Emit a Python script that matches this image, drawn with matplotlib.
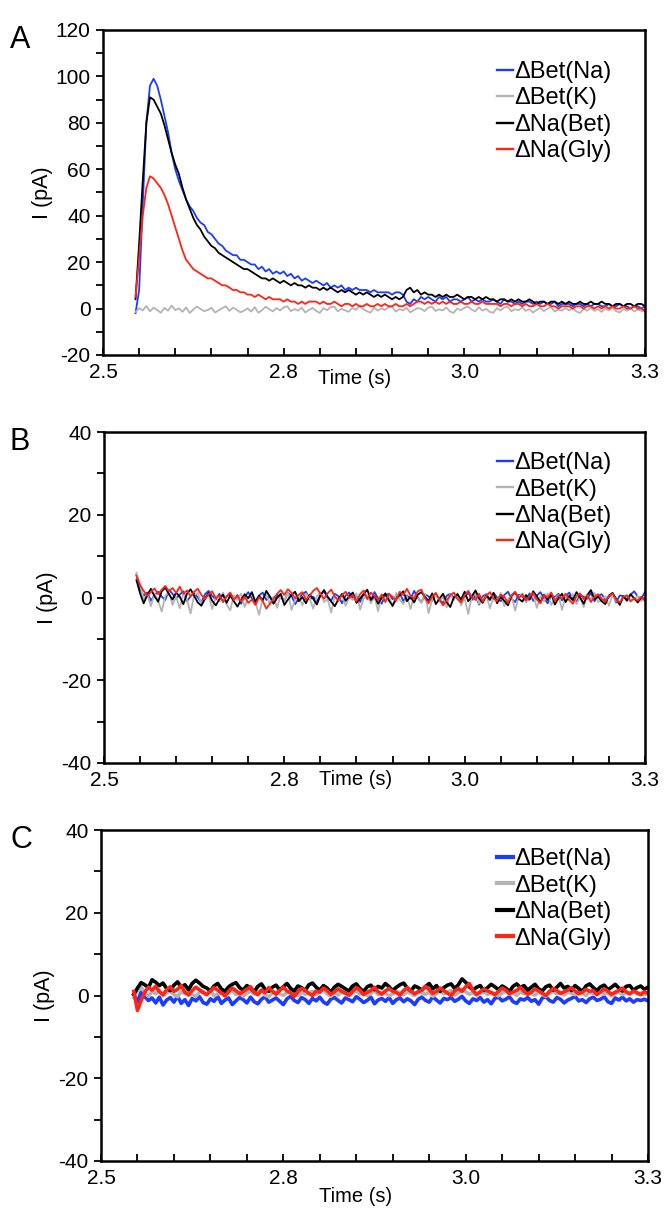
import numpy as np
import matplotlib
matplotlib.use("Agg")
import matplotlib.pyplot as plt
from matplotlib.ticker import MultipleLocator

plt.rcParams['font.family'] = ['Liberation Sans', 'DejaVu Sans']
plt.rcParams['axes.unicode_minus'] = False

# sampling grid of the recordings (s)
t_start = 2.545
t_step = 0.005
n_pts = 142
time = t_start + t_step * np.arange(n_pts)

labels = ['ΔBet(Na)', 'ΔBet(K)', 'ΔNa(Bet)', 'ΔNa(Gly)']
colors = ['#1a3cff', '#b4b4b4', '#000000', '#ff2414']

# panel A currents (pA)
a_bet_na = [-2, 8, 45, 80, 96, 99, 96, 90, 83, 76,
            67, 60, 55, 51, 47, 44, 42, 39, 37, 36,
            33, 32, 30, 28, 27, 25, 24, 23, 23, 21,
            21, 20, 19, 19, 17, 18, 16, 17, 15, 16,
            15, 16, 14, 15, 13, 14, 12, 13, 12, 11,
            12, 11, 10, 11, 9, 10, 9, 10, 8, 9,
            8, 9, 8, 8, 8, 7, 8, 7, 7, 7,
            7, 6, 7, 7, 6, 3, 2, 4, 3, 5,
            4, 5, 4, 3, 5, 4, 5, 3, 4, 4,
            3, 4, 5, 3, 4, 3, 4, 3, 3, 4,
            3, 2, 4, 3, 3, 2, 3, 2, 3, 3,
            2, 3, 2, 3, 2, 2, 3, 1, 2, 2,
            2, 1, 2, 2, 1, 2, 1, 2, 2, 1,
            1, 2, 1, 1, 2, 1, 1, 0, 1, 1,
            0, 1]
a_bet_k = [-1.5, 0.2, -0.8, 1.1, -1.2, 0.4, -0.6, -1.8, 0.3, -0.9,
           1.3, -0.7, 0.1, -1.4, 0.5, -1.9, -0.4, 0.9, -0.2, -1.1,
           -0.6, 0.3, -1.7, -0.8, 0.2, 1.0, -1.0, 0.4, -0.5, -1.6,
           -0.9, 0.1, -1.3, 0.6, -1.8, -0.7, 0.8, -0.3, -1.2, 0.2,
           -0.8, 0.5, 1.0, -1.1, -0.2, -0.9, 0.4, -1.7, -0.6, 0.3,
           -1.0, -1.9, 0.2, -0.7, 0.6, 0.9, -1.2, -0.1, -0.8, -1.4,
           0.3, -0.5, 1.1, -0.2, -1.1, -1.8, 0.4, -0.9, 0.1, -0.6,
           0.5, 0.9, -1.3, -0.2, -0.8, 0.3, -1.6, -0.7, 0.2, -0.1,
           -1.1, 0.4, 0.8, -1.0, -0.3, -0.8, 0.5, -1.2, -1.9, 0.0,
           -0.7, 0.3, 0.9, -0.4, -1.2, 0.6, -0.9, -0.1, -1.4, -1.8,
           0.2, -0.8, 0.4, 0.8, -1.1, -0.3, -0.7, 0.5, -1.0, -0.2,
           -1.7, -0.6, 0.3, -1.1, -0.1, 0.7, -1.3, -0.4, -0.9, 0.2,
           -0.8, 0.1, -1.2, -1.9, -0.2, -0.9, 0.4, -1.0, -0.3, -1.4,
           0.0, -0.8, 0.3, -1.1, -1.7, -0.1, -0.9, 0.2, -1.2, -0.5,
           -1.0, -1.3]
a_na_bet = [4, 28, 55, 80, 91, 90, 87, 84, 79, 73,
            67, 62, 58, 52, 47, 43, 39, 36, 34, 31,
            29, 27, 26, 24, 23, 22, 21, 20, 19, 18,
            17, 17, 16, 15, 14, 13, 13, 12, 13, 12,
            11, 12, 11, 10, 11, 10, 10, 9, 10, 9,
            9, 8, 9, 8, 9, 8, 7, 8, 7, 8,
            7, 6, 7, 6, 7, 6, 5, 6, 5, 6,
            5, 4, 5, 4, 5, 8, 9, 7, 8, 6,
            7, 6, 6, 5, 6, 5, 6, 5, 5, 6,
            5, 4, 5, 5, 4, 5, 4, 5, 4, 4,
            3, 4, 4, 3, 4, 3, 4, 3, 3, 4,
            3, 2, 3, 3, 2, 3, 3, 2, 3, 2,
            3, 2, 2, 3, 2, 2, 3, 2, 2, 3,
            2, 2, 1, 2, 2, 1, 2, 2, 1, 2,
            2, 1]
a_na_gly = [5, 22, 40, 52, 57, 56, 54, 52, 49, 45,
            40, 35, 30, 25, 21, 19, 17, 16, 15, 14,
            13, 13, 12, 11, 10, 10, 9, 8, 8, 7,
            7, 6, 6, 5, 6, 5, 4, 5, 4, 4,
            4, 3, 4, 3, 3, 2, 3, 2, 3, 3,
            3, 2, 3, 2, 2, 3, 2, 1, 2, 2,
            1, 2, 1, 1, 2, 1, 1, 2, 1, 2,
            1, 1, 2, 1, 1, 2, 1, 2, 3, 3,
            2, 3, 2, 3, 2, 3, 2, 3, 2, 2,
            3, 2, 2, 3, 2, 2, 3, 2, 2, 2,
            2, 1, 2, 2, 1, 2, 2, 1, 2, 1,
            1, 2, 1, 1, 2, 1, 1, 0, 1, 1,
            1, 0, 1, 1, 0, 1, 1, 0, 1, 0,
            1, 0, 1, 0, 0, 1, 0, 0, 1, 0,
            0, -1]

# panel B currents (pA)
b_bet_na = [5.5, 2.1, 0.4, 1.2, -0.8, 0.6, 1.4, 0.2, -0.6, 1.8,
            0.9, -0.3, 0.7, 1.5, -0.9, 0.3, 1.1, 0.0, -1.2, 0.8,
            1.6, 0.4, -0.5, 0.9, -1.1, 0.2, 1.0, -0.4, 0.6, -1.5,
            0.1, 1.3, -0.2, -0.9, 0.5, 1.2, -0.6, 0.3, -1.3, 0.7,
            0.0, -0.8, 1.1, 0.4, -1.6, -0.2, 0.8, 1.4, -0.5, 0.2,
            -1.0, 0.6, 1.5, -0.1, -0.7, 0.9, 0.3, -1.4, 0.5, 1.2,
            -0.3, 0.4, -1.1, 0.8, 0.1, -0.6, 1.3, -0.2, -1.5, 0.6,
            0.9, -0.4, 0.2, 1.1, -0.9, 0.5, -0.3, 1.6, 0.0, -1.2,
            0.7, 0.3, -0.8, 1.0, -0.5, -1.3, 0.4, 0.9, -0.1, 0.6,
            -1.0, 0.2, 1.2, -0.6, 0.5, -1.7, 0.3, 0.8, -0.4, 1.1,
            0.0, -0.9, 0.6, 1.4, -0.3, -1.1, 0.7, 0.2, -0.5, 1.0,
            -0.8, 0.4, 1.3, -0.2, -1.4, 0.5, 0.1, 0.9, -0.7, 0.3,
            1.2, -0.5, -1.0, 0.6, 0.2, -0.3, 1.1, -0.9, 0.4, 0.8,
            -0.6, 0.1, 1.0, -1.2, 0.5, 0.3, -0.4, 0.7, 1.5, 0.2,
            -0.3, 1.4]
b_bet_k = [6.0, 3.2, -0.5, 0.8, -2.1, 1.0, -0.7, -3.4, 0.4, 1.3,
           -1.8, 0.2, -2.6, 0.9, -0.4, -3.9, 0.6, 1.1, -1.5, -0.2,
           0.7, -2.8, 0.3, -0.9, 1.2, -1.7, -3.1, 0.5, -0.6, 0.9,
           -2.3, 0.1, 1.0, -1.2, -4.2, -0.3, 0.8, -1.6, 0.2, -2.5,
           0.6, -0.8, 1.1, -3.0, -0.5, 0.4, -1.9, 0.9, -0.2, -2.7,
           0.3, 1.2, -1.1, -0.4, -3.6, 0.5, -0.9, 0.7, -2.0, 0.1,
           -0.6, 1.0, -2.9, -0.3, 0.6, -1.4, 0.2, -3.3, 0.8, -0.7,
           0.4, -2.2, 1.1, -0.5, -1.6, 0.3, -2.8, 0.7, -0.1, -1.3,
           0.9, -3.8, -0.4, 0.5, -1.0, 0.2, -2.4, 0.8, -0.6, 1.0,
           -1.9, -0.2, -4.0, 0.4, 0.9, -1.5, -0.3, 0.6, -2.6, 0.1,
           -0.8, 1.1, -2.1, -0.4, 0.5, -3.2, 0.2, 0.9, -1.2, -0.5,
           0.7, -2.5, 0.3, -0.9, 1.0, -1.8, -0.2, 0.6, -3.0, 0.4,
           -0.7, 0.8, -1.6, 0.1, -2.3, 0.5, -0.4, 1.2, -1.1, -0.6,
           0.3, -2.0, 0.7, -0.8, -1.4, 0.2, 0.6, -1.0, -0.3, 0.4,
           -0.9, 0.2]
b_na_bet = [4.2, 1.0, -1.4, 0.6, 2.1, 0.3, -1.0, 1.5, 2.4, 0.8,
            -0.5, 1.2, 0.2, -1.6, 0.9, 2.0, 0.4, -1.2, -2.0, -0.3,
            1.1, -0.8, -1.9, -0.4, 0.7, -1.3, 0.5, -0.9, -2.2, -0.6,
            0.8, -0.2, 1.3, -1.1, 0.4, -0.7, 1.6, 0.2, -1.5, -0.1,
            0.9, -1.8, -0.5, 0.6, 1.4, -0.9, 0.1, -1.4, 0.7, -0.3,
            -1.7, 0.5, 1.8, 0.2, -1.0, -2.1, -0.4, 0.9, -0.8, 0.3,
            1.2, -1.3, -0.2, 0.8, 1.9, -0.6, 0.4, -1.5, -0.1, 1.0,
            -0.7, -2.0, -0.4, 0.6, 1.5, -0.9, 0.2, -1.2, 0.7, 1.3,
            0.1, -0.8, 1.0, -1.6, -0.3, 0.9, -1.1, -2.3, 0.0, 0.8,
            -0.5, 1.4, -0.9, 0.3, 1.7, -0.2, -1.3, 0.5, -0.6, 1.1,
            -1.4, 0.2, -0.8, -1.9, 0.4, 1.2, -0.3, -1.0, 0.6, -0.5,
            1.5, 0.3, -1.2, 0.7, -0.6, 1.0, -1.7, -0.2, 0.9, -1.1,
            0.4, -0.7, 1.3, 0.0, -1.5, 0.6, 1.8, -0.4, 0.2, -0.9,
            -1.6, 0.5, 1.1, -0.3, -1.8, 0.3, -0.8, 0.8, -0.2, -1.2,
            0.1, -0.6]
b_na_gly = [5.2, 3.0, 1.6, 0.4, 1.3, 2.2, 0.8, 1.9, 2.8, 1.5,
            2.3, 1.1, 2.6, 0.9, 1.7, 0.3, 1.4, 2.1, 0.6, -0.4,
            0.8, 1.5, -0.2, 0.5, -1.0, 0.3, 1.2, -0.6, 0.4, -0.9,
            0.2, -1.3, -0.5, -1.8, 0.1, -0.8, -2.7, -1.5, -0.3, 0.9,
            1.8, 0.6, 2.0, 1.1, -0.2, 0.7, 1.3, -0.5, 0.4, 1.6,
            2.3, 0.9, -0.3, 1.0, 1.9, 0.2, -0.7, 0.6, 1.4, -0.1,
            0.5, -0.9, 0.8, 1.7, -0.4, 1.2, 0.3, -0.6, 0.7, -1.1,
            0.9, 0.2, -0.8, 1.4, 0.6, 2.1, 0.4, -0.3, 1.5, 1.9,
            -0.2, -1.4, 0.3, 1.1, -0.5, -1.9, -0.7, 0.5, 1.2, -0.4,
            -1.2, 0.6, 1.6, 0.1, -0.6, 0.9, -1.0, 0.4, 1.3, -0.3,
            -0.9, 0.7, 0.2, -1.3, 0.5, 1.4, -0.2, 0.8, -0.7, 0.3,
            1.1, -0.5, -1.4, 0.6, 0.0, 1.2, -0.8, 0.4, -0.2, 0.9,
            -0.6, -1.5, 0.3, 1.0, -0.4, 0.6, -1.1, 0.2, 0.8, -0.3,
            -1.0, 0.4, 0.9, -0.5, -1.2, 0.1, 0.5, -0.9, -0.2, -0.7,
            0.2, -0.8]

# panel C currents (pA)
c_bet_na = [0.2, -1.5, 0.8, -0.3, -1.2, -0.6, -1.8, -0.4, -2.3, -1.1,
            -0.5, -1.6, -0.2, -1.9, -1.0, -2.4, -0.7, -1.3, -0.3, -1.7,
            -2.1, -0.8, -1.4, -0.2, -1.9, -1.1, -0.6, -2.2, -1.3, -0.5,
            -1.0, -1.8, -0.4, -1.5, -2.0, -0.9, -0.3, -1.6, -1.1, -0.6,
            -1.4, -2.2, -0.8, -0.2, -1.2, -1.7, -0.5, -1.0, -1.9, -0.7,
            -1.3, -0.4, -1.6, -2.1, -0.9, -0.5, -1.2, -1.8, -0.6, -1.0,
            -1.5, -0.3, -0.9, -1.7, -1.2, -0.4, -2.0, -1.1, -0.7, -1.4,
            -0.5, -1.9, -1.0, -0.6, -1.5, -0.8, -1.3, -2.2, -0.9, -0.4,
            -1.2, -1.6, -0.3, -1.1, -1.8, -0.7, -1.0, -0.5, -1.4, -0.9,
            -0.2, -1.3, -1.9, -0.8, -1.2, -0.5, -1.6, -1.0, -2.0, -0.7,
            -0.4, -1.3, -0.9, -0.3, -1.5, -1.9, -0.8, -1.1, -0.5, -1.4,
            -1.0, -2.1, -0.6, -0.3, -1.2, -1.6, -0.5, -0.9, -1.8, -1.1,
            -0.7, -0.2, -1.3, -1.0, -1.7, -0.8, -0.4, -1.2, -0.9, -0.3,
            -1.5, -1.9, -0.6, -1.1, -0.4, -1.3, -0.8, -1.6, -1.0, -1.2,
            -0.9, -1.3]
c_bet_k = [-0.5, 1.2, 2.0, 0.8, -0.2, 1.0, 0.4, 1.3, -0.1, 0.7,
           1.1, 0.2, -0.3, 0.9, 0.5, 1.4, 0.1, -0.2, 0.8, 1.0,
           0.3, 1.2, -0.1, 0.4, 0.9, 0.0, 0.6, 1.3, 0.2, 0.7,
           -0.2, 0.5, 1.1, 0.3, 0.8, 1.2, 0.1, -0.3, 0.6, 0.9,
           0.4, 0.0, 0.7, 1.2, 0.5, -0.1, 0.8, 0.3, 0.6, 1.0,
           0.2, 0.9, 1.3, 0.4, -0.2, 0.6, 0.1, 0.8, 0.5, -0.1,
           0.7, 1.1, 0.3, 0.9, 0.0, 0.5, 1.2, 0.2, 0.8, 0.6,
           -0.1, 0.4, 1.0, 0.7, 0.2, 0.9, 0.5, 0.0, 1.1, 0.6,
           0.3, 0.8, -0.2, 0.5, 1.0, 0.4, 0.7, 1.2, 0.1, 0.6,
           1.4, 0.9, 0.3, 0.7, 0.0, 0.5, 1.0, 0.2, 0.8, 0.4,
           -0.1, 0.6, 1.1, 0.3, 0.7, 0.0, 0.9, 0.4, 1.2, 0.5,
           0.1, 0.8, 0.3, -0.2, 0.6, 1.0, 0.4, 0.7, 0.1, 0.9,
           0.5, 0.2, 1.1, 0.6, 0.0, 0.8, 0.4, 0.7, 1.0, 0.3,
           0.6, -0.1, 0.5, 0.9, 0.2, 0.7, 0.4, 1.0, 0.3, 0.6,
           0.2, 0.5]
c_na_bet = [0.3, 1.8, 3.1, 2.6, 1.9, 3.8, 3.2, 2.4, 3.0, 1.7,
            1.2, 2.5, 3.3, 2.0, 2.6, 1.4, 2.9, 3.7, 3.0, 2.2,
            1.8, 1.1, 2.3, 2.9, 1.6, 1.0, 2.1, 2.7, 3.1, 1.9,
            1.3, 2.4, 1.8, 0.9, 2.2, 2.8, 1.5, 1.0, 2.0, 2.5,
            1.4, 2.1, 2.9, 1.7, 1.1, 2.3, 1.9, 1.2, 2.6, 3.0,
            2.0, 1.3, 2.4, 1.8, 0.8, 2.0, 2.7, 2.2, 1.6, 1.1,
            2.3, 2.8, 1.7, 1.0, 2.1, 2.5, 1.4, 2.2, 1.8, 2.9,
            2.1, 1.2, 2.0, 2.6, 3.0, 1.8, 1.1, 2.3, 1.9, 1.3,
            2.2, 2.9, 1.6, 2.4, 1.0, 1.9, 2.5, 2.8, 1.7, 2.6,
            4.0, 3.2, 2.1, 1.3, 2.0, 2.4, 1.2, 1.9, 2.7, 2.1,
            1.4, 2.3, 1.8, 1.0, 2.2, 2.8, 1.9, 2.4, 1.3, 2.0,
            2.7, 1.6, 1.1, 2.1, 2.5, 1.3, 2.0, 2.9, 1.8, 2.2,
            1.2, 2.4, 1.7, 1.0, 2.3, 2.8, 1.9, 1.2, 2.1, 2.5,
            1.4, 2.0, 2.7, 1.8, 1.1, 2.2, 2.4, 1.3, 1.9, 2.3,
            1.5, 2.0]
c_na_gly = [1.0, -3.6, -1.2, 0.8, 2.0, 1.3, 2.2, 0.9, 0.2, 1.4,
            2.1, 1.0, 1.5, 2.4, 0.8, 0.1, 1.2, 2.0, 1.4, 0.7,
            0.2, 1.1, 1.9, 1.3, 0.6, -0.1, 1.0, 1.8, 1.2, 0.4,
            0.9, 1.5, 2.1, 0.8, 0.2, 1.3, 0.7, 1.9, 1.0, 0.3,
            1.2, 2.0, 1.1, 0.6, -0.2, 0.9, 1.7, 1.3, 0.5, 0.0,
            1.1, 0.8, 1.8, 1.2, 0.3, 0.9, 1.6, 1.0, 0.6, 0.1,
            1.0, 1.9, 1.3, 0.2, 0.8, 1.2, 2.0, 0.9, 0.3, 1.1,
            1.7, 1.0, 0.7, 0.1, 1.2, 1.9, 1.1, 0.4, 0.9, 1.3,
            2.2, 1.4, 0.5, 1.0, 1.8, 1.2, 0.6, 0.0, 1.1, 1.7,
            1.0, 2.1, 2.9, 1.2, 0.3, 0.9, 1.6, 1.1, 0.7, 0.2,
            1.0, 1.8, 1.3, 0.4, 0.9, 1.2, 2.0, 1.0, 0.3, 0.8,
            1.6, 1.1, 0.6, 0.0, 1.0, 1.7, 1.2, 0.5, 0.9, 1.3,
            1.9, 1.1, 0.4, 0.8, 1.5, 1.0, 1.2, 0.2, 0.9, 1.6,
            1.0, 0.3, 0.8, 1.2, 1.8, 0.9, 0.4, 1.1, 0.7, 0.2,
            0.9, 0.5]

panels = [
    ('A', [a_bet_na, a_bet_k, a_na_bet, a_na_gly], (-20, 120), 1.3),
    ('B', [b_bet_na, b_bet_k, b_na_bet, b_na_gly], (-40, 40), 1.3),
    ('C', [c_bet_na, c_bet_k, c_na_bet, c_na_gly], (-40, 40), 2.6),
]

fig = plt.figure(figsize=(6.66, 12.18), dpi=100)
W, H = 666, 1218
# axes boxes in pixels: left, top, right, bottom
boxes = [(103, 30, 645, 355), (104, 432, 645, 763), (101, 830, 648, 1161)]
# legend anchors and x-label heights per panel (axes fraction)
leg_anchor = [(0.956, 0.934), (0.956, 0.968), (0.951, 0.974)]
xlab_y = [-0.043, -0.02, -0.08]

for i, ((letter, series, ylim, lw), (l, t, r, b)) in enumerate(zip(panels, boxes)):
    ax = fig.add_axes([l / W, 1 - b / H, (r - l) / W, (b - t) / H])
    for y, lab, c in zip(series, labels, colors):
        ax.plot(time, y, color=c, lw=lw, label=lab)

    ax.set_xlim(2.5, 3.25)
    ax.set_ylim(*ylim)
    ax.set_xticks([2.5, 2.75, 3.0, 3.25])
    ax.set_xticklabels(['2.5', '2.8', '3.0', '3.3'])
    ax.xaxis.set_minor_locator(MultipleLocator(0.05))
    ax.set_yticks(np.arange(ylim[0], ylim[1] + 1, 20))
    ax.yaxis.set_minor_locator(MultipleLocator(10))
    ax.tick_params(axis='x', which='both', direction='in', length=5, width=1.3,
                   labelsize=15, pad=6)
    ax.tick_params(axis='y', which='both', direction='out', length=5, width=1.3,
                   labelsize=15, pad=4)
    for s in ax.spines.values():
        s.set_linewidth(1.8)

    ax.set_xlabel('Time (s)', fontsize=14.5)
    ax.xaxis.set_label_coords(0.465, xlab_y[i])
    ax.set_ylabel('I (pA)', fontsize=15.5, labelpad=2)

    leg = ax.legend(loc='upper right', bbox_to_anchor=leg_anchor[i], frameon=False,
                    fontsize=17, handlelength=0.7, handletextpad=0.05,
                    labelspacing=0.19, borderaxespad=0)
    for h in leg.get_lines():
        h.set_linewidth(lw + 0.4)

    fig.text(10 / W, 1 - t / H + 0.004, letter, fontsize=22, va='top', ha='left')

fig.savefig('out.png', dpi=100)
